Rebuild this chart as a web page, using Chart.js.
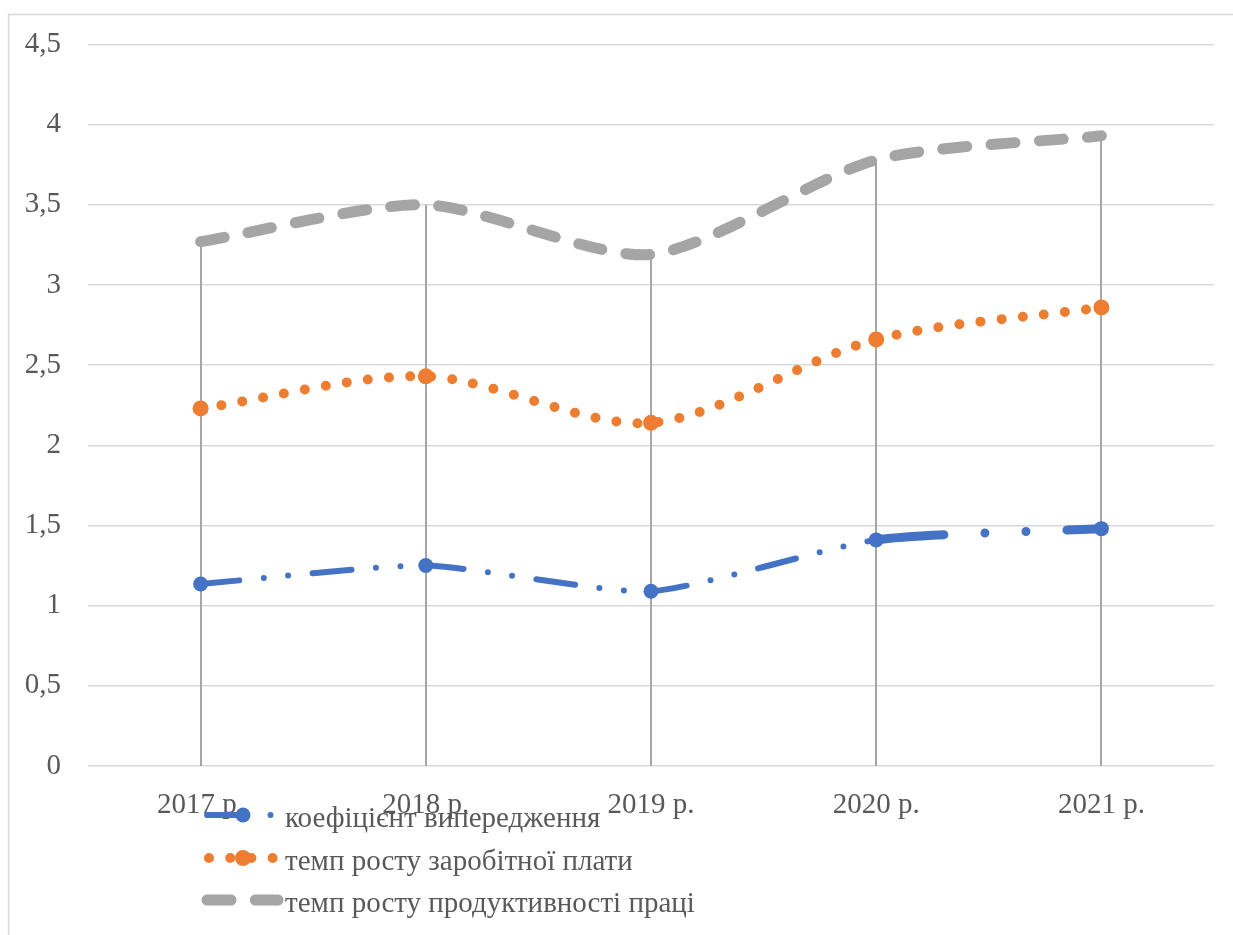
<!DOCTYPE html>
<html lang="uk">
<head>
<meta charset="utf-8">
<title>Коефіцієнт випередження</title>
<script src="https://cdn.jsdelivr.net/npm/chart.js@4/dist/chart.umd.min.js"></script>
<style>
  html, body { margin: 0; padding: 0; background: #ffffff; }
  #wrap { width: 1233px; height: 935px; position: relative; }
</style>
</head>
<body>
<div id="wrap"><canvas id="chart" width="1233" height="935"></canvas></div>
<script>
// Роки
const years = ['2017 р.', '2018 р.', '2019 р.', '2020 р.', '2021 р.'];

// Ряди даних
const advanceRatio = [1.135, 1.25, 1.09, 1.41, 1.48];
const wageGrowth = [2.23, 2.43, 2.14, 2.66, 2.86];
const productivityGrowth = [3.27, 3.50, 3.19, 3.78, 3.93];

// Назви рядів
const seriesNames = [
  'коефіцієнт випередження',
  'темп росту заробітної плати',
  'темп росту продуктивності праці'
];

const FONT = '"Liberation Serif", "Times New Roman", serif';
const TEXT = '#595959';
const FONT_SIZE = 29;

// Зовнішня рамка діаграми
const frame = {
  id: 'frame',
  beforeDraw(chart) {
    const ctx = chart.ctx;
    ctx.save();
    ctx.fillStyle = '#ffffff';
    ctx.fillRect(0, 0, chart.width, chart.height);
    ctx.strokeStyle = '#d9d9d9';
    ctx.lineWidth = 1.5;
    ctx.beginPath();
    ctx.moveTo(8.5, chart.height + 2);
    ctx.lineTo(8.5, 14.5);
    ctx.lineTo(chart.width + 2, 14.5);
    ctx.stroke();
    ctx.restore();
  }
};

// Лінії проекції від найвищої точки до осі X
const dropLines = {
  id: 'dropLines',
  beforeDatasetsDraw(chart) {
    const ctx = chart.ctx;
    const x = chart.scales.x, y = chart.scales.y;
    ctx.save();
    ctx.strokeStyle = '#a6a6a6';
    ctx.lineWidth = 2;
    years.forEach((_, i) => {
      const top = Math.max(...chart.data.datasets.map(d => d.data[i]));
      const px = Math.round(x.getPixelForValue(i));
      ctx.beginPath();
      ctx.moveTo(px, y.getPixelForValue(top));
      ctx.lineTo(px, y.getPixelForValue(0));
      ctx.stroke();
    });
    ctx.restore();
  }
};

// Легенда у стовпчик під віссю X
const stackedLegend = {
  id: 'stackedLegend',
  afterDraw(chart) {
    const ctx = chart.ctx;
    const rows = [815, 858, 900];
    const x0 = 207, x1 = 278, mx = 243;
    ctx.save();
    chart.data.datasets.forEach((ds, i) => {
      const yy = rows[i];
      ctx.save();
      ctx.beginPath();
      ctx.rect(x0 - 7, yy - 15, x1 - x0 + 14, 30);
      ctx.clip();
      ctx.strokeStyle = ds.borderColor;
      ctx.lineWidth = ds.borderWidth;
      ctx.lineCap = 'round';
      ctx.setLineDash(ds.borderDash || []);
      ctx.lineDashOffset = ds.legendDashOffset || 0;
      ctx.beginPath();
      ctx.moveTo(x0, yy);
      ctx.lineTo(x1, yy);
      ctx.stroke();
      ctx.restore();
      if (ds.pointRadius > 0) {
        ctx.fillStyle = ds.pointBackgroundColor;
        ctx.beginPath();
        ctx.arc(mx, yy, ds.pointRadius, 0, Math.PI * 2);
        ctx.fill();
      }
      ctx.fillStyle = TEXT;
      ctx.font = FONT_SIZE + 'px ' + FONT;
      ctx.textBaseline = 'middle';
      ctx.textAlign = 'left';
      ctx.fillText(ds.label, 285, yy + 4);
    });
    ctx.restore();
  }
};

new Chart(document.getElementById('chart'), {
  type: 'line',
  data: {
    labels: years,
    datasets: [
      {
        label: seriesNames[0],
        data: advanceRatio,
        borderColor: '#4472c4',
        backgroundColor: '#4472c4',
        pointBackgroundColor: '#4472c4',
        pointBorderColor: '#4472c4',
        borderWidth: 6,
        borderCapStyle: 'round',
        borderDash: [39, 24.5, 0, 24.5, 0, 24.5],
        legendDashOffset: 0,
        pointRadius: 7.5,
        pointBorderWidth: 0,
        tension: 0.2,
        segment: {
          borderWidth: c => c.p0DataIndex === 3 ? 9 : 6,
          borderDash: c => c.p0DataIndex === 3 ? [68, 41, 0, 41, 0, 41] : [39, 24.5, 0, 24.5, 0, 24.5]
        },
        order: 1
      },
      {
        label: seriesNames[1],
        data: wageGrowth,
        borderColor: '#ed7d31',
        backgroundColor: '#ed7d31',
        pointBackgroundColor: '#ed7d31',
        pointBorderColor: '#ed7d31',
        borderWidth: 10,
        borderCapStyle: 'round',
        borderDash: [0, 21.2],
        legendDashOffset: -2,
        pointRadius: 8,
        pointBorderWidth: 0,
        tension: 0.3,
        order: 2
      },
      {
        label: seriesNames[2],
        data: productivityGrowth,
        borderColor: '#a5a5a5',
        backgroundColor: '#a5a5a5',
        pointBackgroundColor: '#a5a5a5',
        borderWidth: 11,
        borderCapStyle: 'round',
        borderDash: [24, 24.3],
        legendDashOffset: 0,
        pointRadius: 0,
        pointHoverRadius: 0,
        tension: 0.25,
        order: 3
      }
    ]
  },
  options: {
    responsive: false,
    animation: false,
    events: [],
    layout: { padding: { top: 44, right: 19, bottom: 0, left: 0 } },
    plugins: {
      legend: { display: false },
      tooltip: { enabled: false }
    },
    scales: {
      x: {
        offset: true,
        grid: { display: false, drawTicks: false },
        border: { display: false },
        ticks: {
          color: TEXT,
          font: { family: FONT, size: FONT_SIZE },
          padding: 22,
          maxRotation: 0
        },
        afterFit(s) { s.height = 169; }
      },
      y: {
        min: 0,
        max: 4.5,
        ticks: {
          stepSize: 0.5,
          color: TEXT,
          font: { family: FONT, size: FONT_SIZE },
          padding: 27,
          callback: v => String(v).replace('.', ',')
        },
        grid: { color: '#d9d9d9', lineWidth: 1.5, drawTicks: false },
        border: { display: false },
        afterFit(s) { s.width = 88; }
      }
    }
  },
  plugins: [frame, dropLines, stackedLegend]
});
</script>
</body>
</html>
